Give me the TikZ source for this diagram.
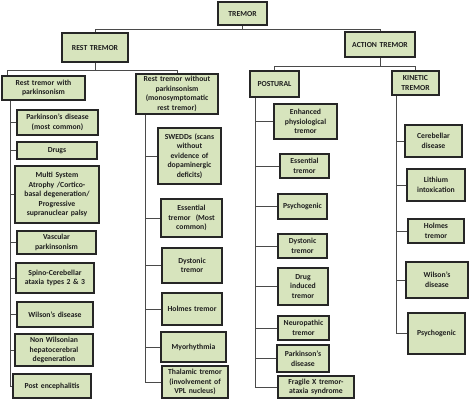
\documentclass[tikz,border=0pt]{standalone}
\usepackage{fontspec}
\setmainfont{Carlito}
\definecolor{boxgreen}{HTML}{D7E4BD}
\definecolor{boxline}{HTML}{262626}
\definecolor{conline}{HTML}{4A4A4A}
\definecolor{txt}{HTML}{1E1E1E}
\newcommand\mkbox[6]{%
 \pgfmathsetmacro\mybw{#4-#2}\pgfmathsetmacro\mybh{#5-#3}%
 \pgfmathsetmacro\mybcx{(#2+#4)/2}\pgfmathsetmacro\mybcy{(#3+#5)/2}%
 \pgfmathsetmacro\mybtw{#4-#2-3}%
 \node[box,minimum width=\mybw pt,minimum height=\mybh pt,text width=\mybtw pt] (#1) at (\mybcx,\mybcy) {#6};}
\begin{document}
\begin{tikzpicture}[x=1pt,y=-1pt,
  box/.style={draw=boxline,fill=boxgreen,line width=1.5pt,inner sep=0pt,align=center,
    text=txt,font=\fontsize{7.7}{9.6}\selectfont\bfseries},
  con/.style={draw=conline,line width=1pt}]
\useasboundingbox (0,0) rectangle (470,400);
% top levels
\mkbox{tremor}{218}{2}{267}{25}{TREMOR}
\mkbox{rest}{62}{33}{128}{62}{REST TREMOR}
\mkbox{action}{345}{32}{415}{57}{ACTION TREMOR}
\mkbox{c1}{2}{76}{85}{100}{Rest tremor with\\parkinsonism}
\mkbox{c2}{136}{74}{218}{114}{Rest tremor without\\parkinsonism\\(monosymptomatic\\rest tremor)}
\mkbox{post}{250}{71}{299}{97}{POSTURAL}
\mkbox{kin}{392}{71}{439}{95}{KINETIC\\TREMOR}
% column 1
\mkbox{a1}{17}{110}{98}{135}{Parkinson’s disease\\(most common)}
\mkbox{a2}{17}{142}{97}{159}{Drugs}
\mkbox{a3}{15}{166}{99}{223}{Multi System\\Atrophy /Cortico-\\basal degeneration/\\Progressive\\supranuclear palsy}
\mkbox{a4}{17}{231}{96}{254}{Vascular\\parkinsonism}
\mkbox{a5}{16}{263}{94}{293}{Spino-Cerebellar\\ataxia types 2 \& 3}
\mkbox{a6}{17}{302}{93}{327}{Wilson’s disease}
\mkbox{a7}{15}{334}{93}{366}{Non Wilsonian\\hepatocerebral\\degeneration}
\mkbox{a8}{13}{374}{91}{398}{Post encephalitis}
% column 2
\mkbox{b1}{158}{128}{221}{184}{SWEDDs (scans\\without\\evidence of\\dopaminergic\\deficits)}
\mkbox{b2}{161}{199}{222}{237}{Essential\\tremor~ (Most\\common)}
\mkbox{b3}{162}{248}{222}{283}{Dystonic\\tremor}
\mkbox{b4}{162}{293}{222}{325}{Holmes tremor}
\mkbox{b5}{161}{332}{226}{362}{Myorhythmia}
\mkbox{b6}{162}{366}{228}{398}{Thalamic tremor\\(involvement of\\VPL nucleus)}
% column 3
\mkbox{p1}{274}{104}{337}{139}{Enhanced\\physiological\\tremor}
\mkbox{p2}{280}{154}{329}{178}{Essential\\tremor}
\mkbox{p3}{278}{194}{327}{219}{Psychogenic}
\mkbox{p4}{278}{234}{327}{258}{Dystonic\\tremor}
\mkbox{p5}{278}{268}{328}{305}{Drug\\induced\\tremor}
\mkbox{p6}{278}{316}{329}{340}{Neuropathic\\tremor}
\mkbox{p7}{277}{345}{329}{372}{Parkinson’s\\disease}
\mkbox{p8}{278}{376}{354}{398}{Fragile X tremor-\\ataxia syndrome}
% column 4
\mkbox{k1}{405}{125}{462}{157}{Cerebellar\\disease}
\mkbox{k2}{407}{169}{465}{201}{Lithium\\intoxication}
\mkbox{k3}{408}{219}{464}{243}{Holmes\\tremor}
\mkbox{k4}{406}{262}{468}{298}{Wilson’s\\disease}
\mkbox{k5}{408}{313}{465}{354}{Psychogenic}
% connectors
\draw[con] (tremor.south) -- ++(0,4) coordinate (j0);
\draw[con] (rest.north) |- (j0) -| (action.north);
\draw[con] (rest.south) -- ++(0,8) coordinate (j1);
\draw[con] ([xshift=6pt]c1.north west) |- (j1) -| (c2.north);
\draw[con] (action.south) -- ++(0,9) coordinate (j2);
\draw[con] (post.north) |- (j2) -| (kin.north);
\coordinate (s1) at ([xshift=9pt]c1.south west);
\coordinate (s2) at ([xshift=10pt]c2.south west);
\coordinate (s3) at ([xshift=6pt]post.south west);
\coordinate (s4) at ([xshift=5pt]kin.south west);
\foreach \n in {a1,a2,a3,a4,a5,a6,a7,a8} \draw[con] (s1) |- (\n.west);
\foreach \n in {b1,b2,b3,b4,b5,b6} \draw[con] (s2) |- (\n.west);
\foreach \n in {p1,p2,p3,p4,p5,p6,p7,p8} \draw[con] (s3) |- (\n.west);
\foreach \n in {k1,k2,k3,k4,k5} \draw[con] (s4) |- (\n.west);
\end{tikzpicture}
\end{document}
